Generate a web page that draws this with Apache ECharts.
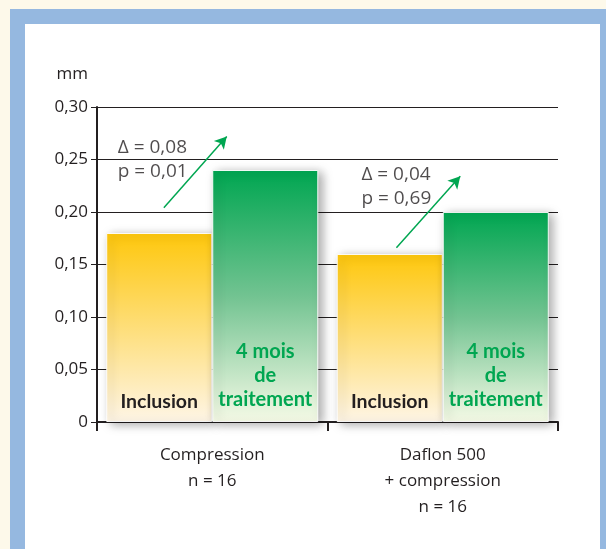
<!DOCTYPE html>
<html><head><meta charset="utf-8">
<script src="https://cdn.jsdelivr.net/npm/echarts@6/dist/echarts.min.js"></script>
<style>
html,body{margin:0;padding:0;width:606px;height:549px;background:#fdf9ea;overflow:hidden;}
#frame{position:absolute;left:10px;top:9px;width:596px;height:540px;background:#95b8e0;}
#panel{position:absolute;left:25px;top:24px;width:575px;height:525px;background:#fff;}
#c{position:absolute;left:0;top:0;width:606px;height:549px;}
</style></head><body>
<div id="frame"></div><div id="panel"></div><div id="c"></div>
<script>
var categories = ['Compression\nn = 16', 'Daflon 500\n+ compression\nn = 16'];
var inclusion = [0.18, 0.16];
var traitement = [0.24, 0.20];
var yTicks = {min: 0, max: 0.30, interval: 0.05};
var inclusionLabel = 'Inclusion';
var traitementLabel = '4 mois\nde\ntraitement';
var annotations = [
  {text: 'Δ = 0,08\np = 0,01', at: [0.09, 0.2495], from: [0.29, 0.204], to: [0.563, 0.272]},
  {text: 'Δ = 0,04\np = 0,69', at: [1.147, 0.2238], from: [1.299, 0.166], to: [1.576, 0.234]}
];

var FONT = '"Open Sans", "Noto Sans", sans-serif';
var BFONT = 'Lato, "Noto Sans", sans-serif';
var DARK = '#231f20';
var GREEN = '#00a651';

var chart = echarts.init(document.getElementById('c'), null, {renderer: 'canvas'});
var barShadow = {shadowBlur: 10, shadowColor: 'rgba(0,0,0,0.35)', shadowOffsetX: 4, shadowOffsetY: 2,
  borderColor: 'rgba(255,255,255,0.9)', borderWidth: 1};

chart.setOption({
  backgroundColor: 'transparent',
  animation: false,
  grid: {left: 97, right: 48, top: 107, bottom: 127, containLabel: false},
  xAxis: [{
    type: 'category', data: categories,
    axisLine: {lineStyle: {color: DARK, width: 2}},
    axisTick: {show: true, length: 9, lineStyle: {color: DARK, width: 2}},
    axisLabel: {fontFamily: FONT, fontSize: 17, color: DARK, lineHeight: 26, margin: 20, interval: 0},
    splitLine: {show: false}
  }, {
    type: 'value', min: 0, max: 2, show: false
  }],
  yAxis: {
    type: 'value', min: yTicks.min, max: yTicks.max, interval: yTicks.interval,
    name: 'mm', nameLocation: 'end', nameGap: 24,
    nameTextStyle: {fontFamily: FONT, fontSize: 17, color: DARK, align: 'right', padding: [0, 9, 0, 0]},
    axisLine: {show: true, lineStyle: {color: DARK, width: 2}},
    axisTick: {show: true, length: 6, lineStyle: {color: DARK, width: 1}},
    axisLabel: {fontFamily: FONT, fontSize: 17, color: DARK, margin: 9,
      formatter: function (v) { return v === 0 ? '0' : v.toFixed(2).replace('.', ','); }},
    splitLine: {show: true, lineStyle: {color: DARK, width: 1}}
  },
  series: [{
    type: 'bar', data: inclusion, barGap: '0%', barCategoryGap: '8%',
    itemStyle: Object.assign({color: new echarts.graphic.LinearGradient(0, 0, 0, 1, [
      {offset: 0, color: '#fec70c'}, {offset: 1, color: '#fef5e6'}])}, barShadow),
    label: {show: true, position: 'insideBottom', distance: 10, formatter: inclusionLabel,
      fontFamily: BFONT, fontSize: 19.5, fontWeight: 'bold', color: DARK}
  }, {
    type: 'bar', data: traitement,
    itemStyle: Object.assign({color: new echarts.graphic.LinearGradient(0, 0, 0, 1, [
      {offset: 0, color: '#00a651'}, {offset: 0.5, color: '#72c391'}, {offset: 1, color: '#f5fae6'}])}, barShadow),
    label: {show: true, position: 'insideBottom', distance: 10, formatter: traitementLabel,
      fontFamily: BFONT, fontSize: 20, fontWeight: 'bold', color: GREEN, lineHeight: 24}
  }, {
    type: 'scatter', xAxisIndex: 1, symbolSize: 0, silent: true, z: 10,
    data: annotations.map(function (a) { return {value: a.at, label: {formatter: a.text}}; }),
    label: {show: true, position: 'right', distance: 0, fontFamily: FONT, fontSize: 19,
      color: DARK, lineHeight: 24, align: 'left'},
    markLine: {
      silent: true, symbol: ['none', 'arrow'], symbolSize: [10, 12],
      lineStyle: {color: GREEN, width: 1.5, type: 'solid'},
      label: {show: false},
      data: annotations.map(function (a) { return [{coord: a.from}, {coord: a.to}]; })
    }
  }]
});
</script>
</body></html>
